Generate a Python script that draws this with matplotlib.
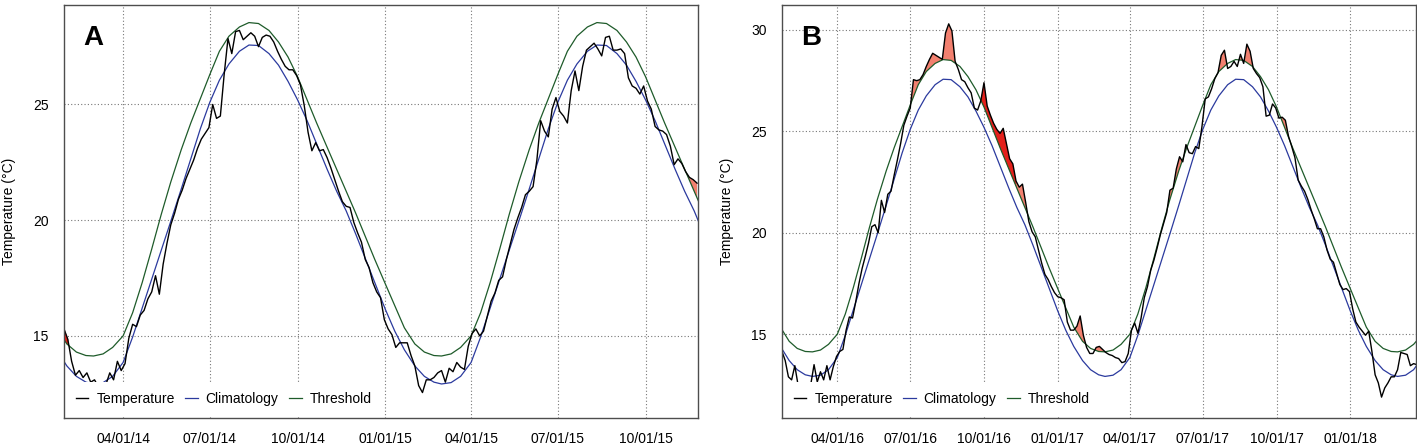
import numpy as np
import matplotlib
matplotlib.use("Agg")
import matplotlib.pyplot as plt
import matplotlib.dates as mdates
from matplotlib.patches import Polygon

plt.rcParams['font.family'] = ['Liberation Sans', 'DejaVu Sans']

# seasonal climatology / threshold, read at the 1st, 11th and 21st of each month
season_days = [1, 11, 21]
clim_table = [16.15, 15.2, 14.4,  13.7, 13.25, 13.0,  12.92, 12.98, 13.25,
              13.85, 14.95, 16.2,  17.45, 18.7, 19.95,  21.35, 22.65, 23.95,
              25.1, 26.05, 26.75,  27.3, 27.57, 27.55,  27.2, 26.7, 26.0,
              25.2, 24.3, 23.3,  22.2, 21.25, 20.4,  19.4, 18.35, 17.3]
thresh_table = [17.25, 16.3, 15.35,  14.65, 14.3, 14.15,  14.13, 14.22, 14.5,
                15.0, 16.0, 17.3,  18.75, 20.25, 21.65,  23.05, 24.2, 25.25,
                26.3, 27.3, 27.95,  28.35, 28.54, 28.5,  28.2, 27.7, 27.05,
                26.2, 25.2, 24.2,  23.15, 22.2, 21.25,  20.3, 19.3, 18.3]

# temperature, one reading every 4 days
step_days = 4
temp_a_start = '2014-01-29'
temp_a = [15.3, 14.85, 13.9, 13.3, 13.5, 13.2, 13.4, 13.0, 13.1, 12.8,
          12.7, 12.9, 13.4, 13.1, 13.9, 13.5, 13.8, 14.9, 15.5, 15.4,
          15.9, 16.1, 16.6, 16.9, 17.6, 16.8, 18.1, 19.0, 19.8, 20.3,
          20.9, 21.3, 21.8, 22.2, 22.6, 23.1, 23.5, 23.75, 24.0, 25.0,
          24.4, 24.5, 26.3, 27.85, 27.2, 28.15, 28.2, 27.8, 27.95, 28.1,
          27.95, 27.5, 27.9, 28.0, 27.95, 27.7, 27.3, 26.95, 26.65, 26.5,
          26.5, 26.25, 25.85, 24.95, 23.8, 23.0, 23.35, 23.0, 23.05, 22.7,
          22.25, 21.75, 21.25, 20.8, 20.6, 20.55, 19.9, 19.45, 19.05, 18.3,
          17.95, 17.3, 16.9, 16.65, 15.7, 15.3, 15.05, 14.5, 14.7, 14.7,
          14.7, 14.15, 13.7, 12.85, 12.55, 13.1, 13.1, 13.2, 13.4, 13.5,
          13.0, 13.6, 13.45, 13.85, 13.65, 13.55, 14.55, 15.1, 15.3, 15.0,
          15.2, 15.85, 16.5, 16.85, 17.4, 17.55, 18.3, 18.95, 19.6, 20.1,
          20.55, 21.1, 21.25, 21.45, 22.6, 24.3, 23.85, 23.6, 24.8, 25.3,
          24.7, 24.5, 24.2, 25.6, 26.45, 25.6, 26.65, 27.35, 27.5, 27.65,
          27.4, 27.1, 27.9, 27.95, 27.35, 27.35, 27.4, 27.2, 26.15, 25.8,
          25.7, 25.45, 25.8, 25.15, 24.8, 24.05, 23.9, 23.85, 23.7, 23.2,
          22.4, 22.65, 22.45, 22.1, 21.85, 21.75, 21.6]

temp_b_start = '2016-01-23'
temp_b = [14.15, 13.7, 12.9, 12.75, 13.45, 12.5, 12.5, 12.4, 12.4, 12.55,
          13.5, 12.65, 13.15, 12.75, 13.45, 12.75, 13.4, 13.9, 14.15, 14.25,
          15.2, 15.85, 15.8, 16.6, 17.5, 18.25, 18.85, 19.5, 20.3, 20.4,
          20.0, 21.6, 21.0, 21.9, 22.05, 22.85, 23.6, 24.4, 25.3, 25.75,
          26.15, 27.55, 27.5, 27.55, 27.8, 28.2, 28.55, 28.85, 28.75, 28.65,
          28.55, 29.85, 30.3, 29.95, 28.45, 28.05, 27.55, 27.45, 27.15, 26.9,
          26.15, 26.05, 26.5, 27.4, 26.25, 25.8, 25.4, 25.1, 24.9, 25.15,
          24.4, 23.65, 23.4, 22.55, 22.25, 22.4, 21.5, 20.55, 20.05, 19.8,
          19.15, 18.5, 17.95, 17.7, 17.35, 17.05, 16.85, 16.8, 16.7, 15.6,
          15.2, 15.2, 15.4, 15.9, 14.95, 14.35, 14.05, 14.05, 14.35, 14.4,
          14.25, 14.1, 14.0, 13.95, 13.85, 13.8, 13.6, 13.65, 14.05, 15.2,
          15.55, 15.05, 15.8, 16.8, 17.35, 18.15, 18.65, 19.25, 19.9, 20.45,
          21.0, 22.1, 22.2, 23.15, 23.75, 23.5, 24.35, 23.95, 23.9, 24.25,
          24.15, 25.25, 26.6, 26.7, 27.1, 27.6, 27.9, 28.75, 29.0, 28.1,
          28.2, 28.45, 28.2, 28.8, 28.35, 29.3, 28.95, 28.1, 27.85, 27.65,
          27.2, 25.75, 25.8, 26.35, 26.15, 25.65, 25.7, 25.55, 24.75, 24.25,
          23.7, 22.6, 22.3, 22.05, 21.65, 21.15, 20.7, 20.2, 20.2, 19.8,
          19.15, 18.7, 18.55, 18.0, 17.45, 17.2, 17.25, 17.1, 16.25, 15.6,
          15.35, 15.15, 14.95, 15.15, 14.15, 13.0, 12.6, 11.9, 12.35, 12.6,
          12.9, 12.9, 13.25, 14.1, 14.05, 14.0, 13.45, 13.55, 13.5]

xticks_a = ['2014-04-01', '2014-07-01', '2014-10-01', '2015-01-01',
            '2015-04-01', '2015-07-01', '2015-10-01']
xticks_b = ['2016-04-01', '2016-07-01', '2016-10-01', '2017-01-01',
            '2017-04-01', '2017-07-01', '2017-10-01', '2018-01-01']

BLUE = '#2b3a9e'
GREEN = '#1e5b2a'
SALMON = '#f2806f'
RED = '#e3201b'


def seasonal(y0, y1, table):
    dd, vv = [], []
    for yr in range(y0, y1 + 1):
        for i, val in enumerate(table):
            dd.append(np.datetime64('%d-%02d-%02d' % (yr, i // 3 + 1, season_days[i % 3])))
            vv.append(val)
    dd.append(np.datetime64('%d-01-01' % (y1 + 1)))
    vv.append(table[0])
    return np.array(dd), np.array(vv)


def panel(ax, letter, start, temps, xlim, ylim, yticks, xticks, red_win):
    tdates = np.datetime64(start) + np.arange(len(temps)) * np.timedelta64(step_days, 'D')
    temps = np.array(temps)
    y0, y1 = int(xlim[0][:4]), int(xlim[1][:4])
    cdates, cvals = seasonal(y0, y1, clim_table)
    _, hvals = seasonal(y0, y1, thresh_table)

    # exceedance fill: area under temperature, clipped to area above threshold
    hx = mdates.date2num(cdates)
    verts = np.vstack([np.column_stack([hx, hvals]), [[hx[-1], 100], [hx[0], 100]]])
    inwin = (tdates >= np.datetime64(red_win[0])) & (tdates <= np.datetime64(red_win[1]))
    for color, mask in [(SALMON, np.ones(len(temps), bool)), (RED, inwin)]:
        f = ax.fill_between(tdates[mask], temps[mask], 0, color=color, lw=0, zorder=2)
        f.set_clip_path(Polygon(verts, closed=True, transform=ax.transData))

    ax.plot(tdates, temps, color='black', lw=1.0, zorder=4, label='Temperature')
    ax.plot(cdates, cvals, color=BLUE, lw=0.9, zorder=3, label='Climatology')
    ax.plot(cdates, hvals, color=GREEN, lw=0.9, zorder=3, label='Threshold')

    ax.set_xlim(np.datetime64(xlim[0]), np.datetime64(xlim[1]))
    ax.set_ylim(*ylim)
    ax.set_yticks(yticks)
    ax.set_xticks(mdates.date2num(np.array(xticks, dtype='datetime64[D]')))
    ax.xaxis.set_major_formatter(mdates.DateFormatter('%m/%d/%y'))
    ax.grid(True, linestyle=(0, (1, 2)), color='#777777', lw=0.8)
    ax.tick_params(axis='both', length=0, labelsize=10)
    ax.tick_params(axis='x', pad=10)
    ax.tick_params(axis='y', pad=11)
    for s in ax.spines.values():
        s.set_color('#4d4d4d')
        s.set_linewidth(1.0)
        s.set_zorder(6)
    ax.set_ylabel('Temperature (°C)', fontsize=10)
    ax.yaxis.set_label_coords(-0.075, 0.5)
    ax.text(0.03, 0.92, letter, transform=ax.transAxes, fontsize=20,
            fontweight='bold', ha='left', va='center')
    leg = ax.legend(loc='lower left', ncol=3, fontsize=10, frameon=True, fancybox=False,
                    borderaxespad=0.1, borderpad=0.75, handlelength=0.9,
                    handletextpad=0.58, columnspacing=0.75)
    leg.get_frame().set_facecolor('white')
    leg.get_frame().set_edgecolor('none')
    leg.get_frame().set_alpha(1.0)


fig = plt.figure(figsize=(14.17, 4.45), dpi=100)
ax_a = fig.add_axes([64 / 1417, 27 / 445, 634 / 1417, 413 / 445])
ax_b = fig.add_axes([782 / 1417, 27 / 445, 634 / 1417, 413 / 445])

panel(ax_a, 'A', temp_a_start, temp_a, ('2014-01-29', '2015-11-25'),
      (11.45, 29.3), [15, 20, 25], xticks_a, ('2014-01-25', '2014-02-03'))
panel(ax_b, 'B', temp_b_start, temp_b, ('2016-01-23', '2018-03-24'),
      (10.87, 31.23), [15, 20, 25, 30], xticks_b, ('2016-09-27', '2016-11-10'))

fig.savefig('out.png', dpi=100)
